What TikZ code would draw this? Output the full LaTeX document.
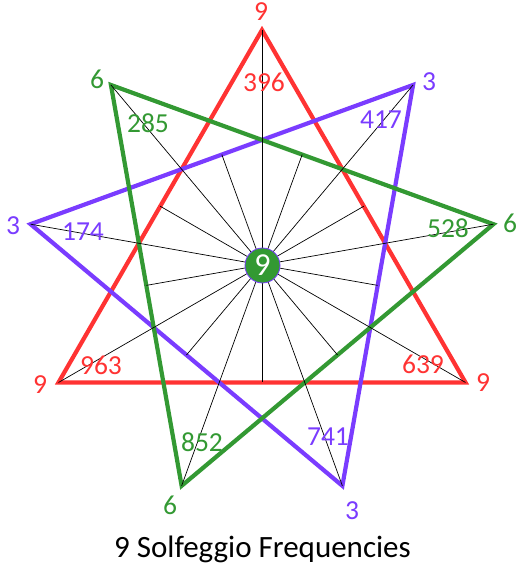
\documentclass[tikz,border=0pt]{standalone}
\usepackage{fontspec}
\setmainfont{Carlito}
\usetikzlibrary{calc}
\definecolor{sred}{HTML}{FF3333}
\definecolor{spurple}{HTML}{7A3CFF}
\definecolor{sgreen}{HTML}{339933}
\begin{document}
\begin{tikzpicture}[x=1pt,y=1pt,
  tri/.style={line width=4.2pt, line join=miter},
  spoke/.style={line width=0.7pt, black},
  lab/.style={font=\fontsize{27.5}{27.5}\selectfont, inner sep=0pt},
]
\useasboundingbox (0,0) rectangle (524,569);
\coordinate (C) at (262,304);
\foreach \k in {0,...,8} {
  \coordinate (v\k) at ($(C)+({90+40*\k}:235)$);
  \coordinate (m\k) at ($(C)+({270+40*\k}:117.5)$);
}
% triangles
\draw[tri, sred] (v0) -- (v3) -- (v6) -- cycle;
\draw[tri, spurple] (v2) -- (v5) -- (v8) -- cycle;
\draw[tri, sgreen] (v1) -- (v4) -- (v7) -- cycle;
% spokes (medians)
\foreach \k in {0,...,8} {
  \draw[spoke] (v\k) -- (m\k);
}
% centre
\node[circle, fill=sgreen, draw=spurple, line width=0.8pt, minimum size=35pt,
      inner sep=0pt, text=white, font=\fontsize{32}{32}\selectfont] (ctr) at (262.5,303.5) {9};
% red labels
\node[lab, text=sred] (r1) at (261,557) {9};
\node[lab, text=sred] (f396) at (264,487) {396};
\node[lab, text=sred] (r2) at (483,186) {9};
\node[lab, text=sred] (f639) at (423,205) {639};
\node[lab, text=sred] (r3) at (40,184) {9};
\node[lab, text=sred] (f963) at (101,204) {963};
% green labels
\node[lab, text=sgreen] (g1) at (97,490) {6};
\node[lab, text=sgreen] (f285) at (148,446) {285};
\node[lab, text=sgreen] (g2) at (510,346) {6};
\node[lab, text=sgreen] (f528) at (448,341) {528};
\node[lab, text=sgreen] (g3) at (170,64) {6};
\node[lab, text=sgreen] (f852) at (202,127) {852};
% purple labels
\node[lab, text=spurple] (p1) at (429,487) {3};
\node[lab, text=spurple] (f417) at (381,449) {417};
\node[lab, text=spurple] (p2) at (13,343) {3};
\node[lab, text=spurple] (f174) at (83,337) {174};
\node[lab, text=spurple] (p3) at (352,58) {3};
\node[lab, text=spurple] (f741) at (328,132) {741};
% title
\node[anchor=base, inner sep=0pt, font=\fontsize{31}{31}\selectfont] (title) at (262.5,11) {9 Solfeggio Frequencies};
\end{tikzpicture}
\end{document}
